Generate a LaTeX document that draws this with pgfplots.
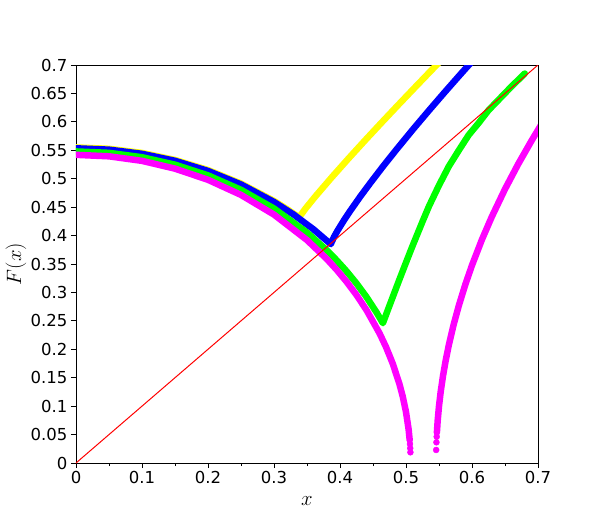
\documentclass[border=0pt]{standalone}
\usepackage{fontspec}
\setmainfont{DejaVu Sans}
\usepackage{pgfplots}
\pgfplotsset{compat=1.18}
\definecolor{myyellow}{rgb}{1,1,0}
\definecolor{myblue}{rgb}{0,0,1}
\definecolor{mygreen}{rgb}{0,1,0}
\definecolor{mymagenta}{rgb}{1,0,1}
\begin{document}
\begin{tikzpicture}
\useasboundingbox (-76pt,-67pt) rectangle (539pt,463pt);
\begin{axis}[
  at={(0pt,0pt)}, anchor=south west,
  scale only axis, width=462pt, height=398pt,
  xmin=0, xmax=0.7, ymin=0, ymax=0.7,
  xtick={0,0.1,0.2,0.3,0.4,0.5,0.6,0.7},
  xticklabels={0,0.1,0.2,0.3,0.4,0.5,0.6,0.7},
  minor xtick={0.05,0.15,0.25,0.35,0.45,0.55,0.65},
  ytick={0,0.05,0.1,0.15,0.2,0.25,0.3,0.35,0.4,0.45,0.5,0.55,0.6,0.65,0.7},
  yticklabels={0,0.05,0.1,0.15,0.2,0.25,0.3,0.35,0.4,0.45,0.5,0.55,0.6,0.65,0.7},
  xtick pos=bottom, ytick pos=left,
  tick align=outside,
  major tick length=5pt, minor tick length=3pt,
  tick style={black, line width=0.8pt},
  axis line style={black, line width=0.8pt},
  /pgf/number format/assume math mode=true,
  ticklabel style={font=\fontsize{16.5}{19}\selectfont},
  xlabel={$x$}, ylabel={$F(x)$},
  every axis x label/.style={at={(axis description cs:0.5,-0.0955)}, anchor=center, font=\fontsize{21}{24}\selectfont},
  every axis y label/.style={at={(axis description cs:-0.13,0.5)}, anchor=center, rotate=90, font=\fontsize{21}{24}\selectfont},
  clip=true,
]
% yellow
\addplot[myyellow, line width=6.5pt, line cap=round, line join=round] coordinates {
(0,0.555) (0.05,0.5526) (0.1,0.5453) (0.15,0.5330) (0.2,0.5153) (0.25,0.4915)
(0.3,0.4609) (0.32,0.4463) (0.338,0.432)
(0.348,0.4479) (0.363,0.4693) (0.388,0.5031) (0.413,0.5357) (0.438,0.5675)
(0.463,0.5987) (0.488,0.6295) (0.513,0.6599) (0.538,0.6901) (0.563,0.720)
};
% blue
\addplot[myblue, line width=6.5pt, line cap=round, line join=round] coordinates {
(0,0.5535) (0.05,0.5511) (0.1,0.5438) (0.15,0.5315) (0.2,0.5137) (0.25,0.4899)
(0.3,0.4591) (0.33,0.4368) (0.36,0.4108) (0.386,0.385)
(0.391,0.3977) (0.396,0.4081) (0.406,0.4269) (0.416,0.4443) (0.431,0.4691)
(0.446,0.4926) (0.466,0.5229) (0.486,0.552) (0.511,0.5874) (0.536,0.6217)
(0.561,0.6553) (0.586,0.6882) (0.611,0.7204)
};
% green
\addplot[mygreen, line width=6.5pt, line cap=round, line join=round] coordinates {
(0,0.548) (0.05,0.5455) (0.1,0.5378) (0.15,0.5247) (0.2,0.5059) (0.25,0.4805)
(0.3,0.4476) (0.35,0.4053) (0.38,0.3742) (0.395,0.3565) (0.41,0.3372)
(0.425,0.3159) (0.44,0.2922) (0.455,0.2655) (0.465,0.246)
(0.47,0.2615) (0.48,0.2922) (0.49,0.3227) (0.5,0.3526) (0.51,0.3821)
(0.525,0.4246) (0.535,0.4521) (0.55,0.4884) (0.565,0.522) (0.58,0.5499)
(0.595,0.5769) (0.61,0.5979) (0.625,0.6204) (0.64,0.6384) (0.66,0.6624)
(0.68,0.685)
};
% magenta left arc
\addplot[mymagenta, line width=6.5pt, line cap=round, line join=round] coordinates {
(0,0.542) (0.05,0.5394) (0.1,0.5314) (0.15,0.5177) (0.2,0.4981) (0.25,0.4715)
(0.3,0.4369) (0.35,0.3921) (0.38,0.3588) (0.395,0.3398) (0.41,0.3188)
(0.425,0.2955) (0.44,0.2693) (0.46,0.2279) (0.47,0.2033) (0.48,0.1745)
(0.49,0.1392) (0.495,0.1172) (0.50,0.0898) (0.504,0.0589) (0.5056,0.040)
};
\addplot[mymagenta, only marks, mark=*, mark size=3pt] coordinates {
(0.50604,0.0334) (0.5064,0.026) (0.5067,0.0188)
};
% magenta right branch
\addplot[mymagenta, line width=6.5pt, line cap=round, line join=round] coordinates {
(0.5468,0.0533) (0.548,0.0745) (0.550,0.100) (0.5525,0.1247) (0.556,0.1527)
(0.56,0.1794) (0.565,0.2081) (0.572,0.2426) (0.58,0.2767) (0.59,0.3143)
(0.60,0.3478) (0.615,0.3928) (0.63,0.4331) (0.65,0.4817) (0.67,0.5258)
(0.69,0.5664) (0.70,0.5857) (0.71,0.605)
};
\addplot[mymagenta, only marks, mark=*, mark size=3pt] coordinates {
(0.5465,0.0463) (0.5461,0.0364) (0.5457,0.0229)
};
% red diagonal
\addplot[red, line width=1pt] coordinates {(0,0) (0.7,0.7)};
\end{axis}
\end{tikzpicture}
\end{document}
